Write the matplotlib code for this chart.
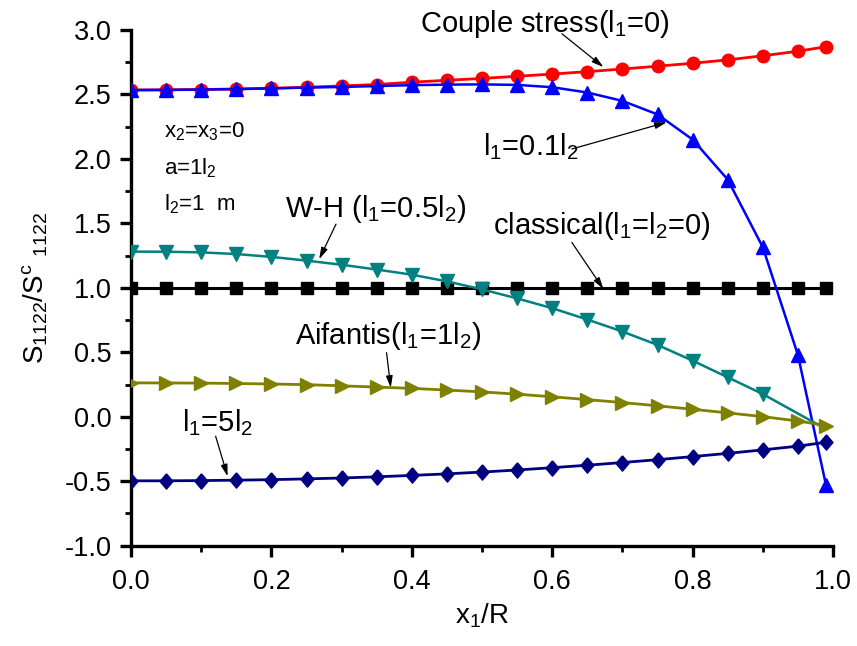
import matplotlib
matplotlib.use("Agg")
import matplotlib.pyplot as plt
from matplotlib.ticker import MultipleLocator

plt.rcParams['font.family'] = ['Liberation Sans', 'DejaVu Sans']
plt.rcParams['mathtext.default'] = 'regular'

# ---- data ----
x = [0.0, 0.05, 0.10, 0.15, 0.20, 0.25, 0.30, 0.35, 0.40, 0.45, 0.50,
     0.55, 0.60, 0.65, 0.70, 0.75, 0.80, 0.85, 0.90, 0.95, 0.99]
classical = [1.0, 1.0, 1.0, 1.0, 1.0, 1.0, 1.0, 1.0, 1.0, 1.0, 1.0,
             1.0, 1.0, 1.0, 1.0, 1.0, 1.0, 1.0, 1.0, 1.0, 1.0]
couple_stress = [2.534, 2.536, 2.538, 2.542, 2.548, 2.556, 2.566, 2.577, 2.595, 2.610, 2.624,
                 2.641, 2.658, 2.677, 2.697, 2.719, 2.742, 2.768, 2.800, 2.835, 2.870]
l1_01l2 = [2.534, 2.535, 2.538, 2.542, 2.547, 2.553, 2.558, 2.565, 2.572, 2.576, 2.578,
           2.574, 2.556, 2.515, 2.450, 2.345, 2.150, 1.840, 1.315, 0.480, -0.530]
wh = [1.281, 1.280, 1.275, 1.262, 1.240, 1.211, 1.179, 1.142, 1.102, 1.050, 0.988,
      0.918, 0.842, 0.754, 0.661, 0.557, 0.435, 0.306, 0.176, 0.025, -0.095]
aifantis = [0.263, 0.262, 0.261, 0.258, 0.254, 0.249, 0.240, 0.230, 0.220, 0.207, 0.193,
            0.175, 0.155, 0.133, 0.110, 0.085, 0.058, 0.030, 0.001, -0.033, -0.068]
l1_5l2 = [-0.497, -0.497, -0.495, -0.492, -0.488, -0.482, -0.475, -0.466, -0.455, -0.443, -0.429,
          -0.413, -0.395, -0.376, -0.355, -0.333, -0.309, -0.284, -0.257, -0.228, -0.198]

x_ticks = [0.0, 0.2, 0.4, 0.6, 0.8, 1.0]
y_ticks = [-1.0, -0.5, 0.0, 0.5, 1.0, 1.5, 2.0, 2.5, 3.0]

fig = plt.figure(figsize=(8.57, 6.46), dpi=100)
ax = fig.add_axes([0.1529, 0.1553, 0.8191, 0.7983])

diamond = [(0, 1), (0.85, 0), (0, -1), (-0.85, 0), (0, 1)]
ax.plot(x, classical, color='black', lw=2.2, marker='s', ms=8.5, zorder=3)
ax.plot(x, couple_stress, color='#FF0000', lw=2.0, marker='o', ms=9, zorder=4)
ax.plot(x, l1_01l2, color='#0000FF', lw=1.8, marker='^', ms=9.5, zorder=5)
ax.plot(x, wh, color='#008080', lw=1.8, marker='v', ms=9.5, markevery=list(range(19)), zorder=6)
ax.plot(x, aifantis, color='#808000', lw=2.0, marker='>', ms=9.5, zorder=7)
ax.plot(x, l1_5l2, color='#000080', lw=2.0, marker=diamond, ms=11, zorder=8)

ax.set_xlim(0, 1)
ax.set_ylim(-1, 3)
ax.set_xticks(x_ticks)
ax.set_yticks(y_ticks)
ax.set_xticklabels(['%.1f' % v for v in x_ticks])
ax.set_yticklabels(['%.1f' % v for v in y_ticks])
ax.xaxis.set_minor_locator(MultipleLocator(0.1))
ax.yaxis.set_minor_locator(MultipleLocator(0.25))

for s in ['top', 'right']:
    ax.spines[s].set_visible(False)
for s in ['left', 'bottom']:
    ax.spines[s].set_linewidth(2.4)
ax.tick_params(which='major', direction='out', length=8, width=2.4,
               labelsize=19.5, pad=6)
ax.tick_params(axis='x', which='major', pad=9)
ax.tick_params(which='minor', direction='out', length=4, width=2.0)

ax.set_xlabel('x$_1$/R', fontsize=20)
ax.xaxis.set_label_coords(0.5, -0.108)
ax.set_ylabel('S$_{1122}$/S$^{c}$ $_{1122}$', fontsize=20)
ax.yaxis.set_label_coords(-0.115, 0.5)

fs = 21
arrow = dict(arrowstyle='-|>,head_length=0.7,head_width=0.2', lw=0.9,
             color='black', shrinkA=0, shrinkB=0)

ax.text(0.412, 2.986, 'Couple stress(l$_1$=0)', fontsize=fs, ha='left', va='baseline')
ax.annotate('', xy=(0.673, 2.712), xytext=(0.614, 2.97), arrowprops=arrow)

ax.text(0.501, 2.025, 'l$_1$=0.1l$_2$', fontsize=fs, ha='left', va='baseline')
ax.annotate('', xy=(0.763, 2.284), xytext=(0.628, 2.077), arrowprops=arrow)

ax.text(0.047, 2.17, 'x$_2$=x$_3$=0', fontsize=16, ha='left', va='baseline')
ax.text(0.047, 1.883, 'a=1l$_2$', fontsize=16, ha='left', va='baseline')
ax.text(0.047, 1.598, 'l$_2$=1  m', fontsize=16, ha='left', va='baseline')

ax.text(0.220, 1.546, 'W-H (l$_1$=0.5l$_2$)', fontsize=fs, ha='left', va='baseline')
ax.annotate('', xy=(0.268, 1.222), xytext=(0.292, 1.494), arrowprops=arrow)

ax.text(0.515, 1.416, 'classical(l$_1$=l$_2$=0)', fontsize=fs, ha='left', va='baseline')
ax.annotate('', xy=(0.673, 0.99), xytext=(0.628, 1.352), arrowprops=arrow)

ax.text(0.234, 0.562, 'Aifantis(l$_1$=1l$_2$)', fontsize=fs, ha='left', va='baseline')
ax.annotate('', xy=(0.370, 0.225), xytext=(0.364, 0.497), arrowprops=arrow)

ax.text(0.0725, -0.112, 'l$_1$=5l$_2$', fontsize=fs, ha='left', va='baseline')
ax.annotate('', xy=(0.1376, -0.462), xytext=(0.1205, -0.151), arrowprops=arrow)

fig.savefig('out.png', dpi=100)
